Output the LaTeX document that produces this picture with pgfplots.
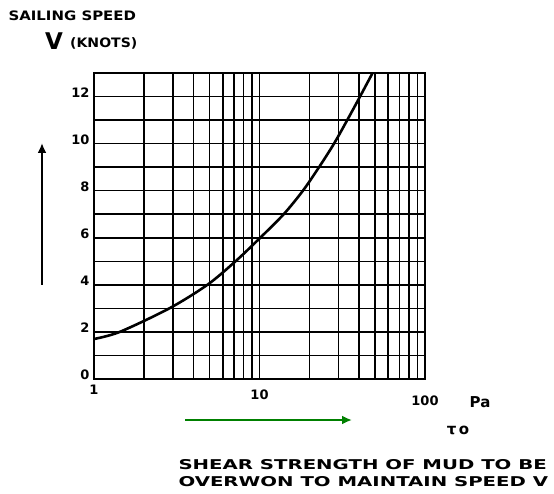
\documentclass[border=0pt]{standalone}
\usepackage{pgfplots}
\pgfplotsset{compat=1.18}
\usepackage{fontspec}
\setmainfont{DejaVu Sans}
\usetikzlibrary{arrows.meta}
\begin{document}
\begin{tikzpicture}[x=1pt,y=1pt]
\path[use as bounding box] (0,0) rectangle (554,493);
\begin{axis}[
  at={(94pt,114pt)}, anchor=south west,
  scale only axis, width=331pt, height=306pt,
  xmode=log, xmin=1, xmax=100, ymin=0, ymax=13,
  xtick={1,10,100},
  xticklabels={{1},{\raisebox{-5pt}[\height]{10}},{\raisebox{-11pt}[\height]{100}}},
  minor xtick={2,3,4,5,6,7,8,9,20,30,40,50,60,70,80,90},
  ytick={0,2,4,6,8,10,12},
  minor ytick={1,3,5,7,9,11},
  grid=both,
  major grid style={black, line width=1.6pt},
  minor grid style={black, line width=1.6pt},
  axis line style={black, line width=1.8pt},
  major tick length=0pt, minor tick length=0pt,
  /pgf/number format/assume math mode=true,
  ticklabel style={font=\fontsize{13}{14}\selectfont\bfseries},
  xticklabel style={yshift=-2pt},
  yticklabel style={xshift=-1pt, yshift=4pt},
  clip=true,
]
\addplot[black, line width=2.6pt, smooth] coordinates {
(1,1.7) (1.43,2) (2.85,3) (4.84,4) (7.16,5) (10.1,6) (14.0,7) (18.3,8)
(22.9,9) (28.2,10) (33.9,11) (40.5,12) (48.2,13)
};
\end{axis}
% titles
\node[anchor=west, font=\fontsize{13}{15}\selectfont\bfseries] at (5,477) {\scalebox{1.15}[1]{SAILING SPEED}};
\node[anchor=base west, font=\fontsize{23}{24}\selectfont\bfseries, inner sep=0pt] at (45,443) {V};
\node[anchor=base west, font=\fontsize{13}{15}\selectfont\bfseries, inner sep=0pt] at (70,445) {\scalebox{1.08}[1]{(KNOTS)}};
% vertical arrow
\draw[line width=2.8pt, -{Latex[length=10pt,width=9pt]}] (42,208) -- (42,350);
% units
\node[font=\fontsize{15}{16}\selectfont\bfseries] at (480,91) {Pa};
\node[font=\fontsize{15}{16}\selectfont\bfseries] at (458,63) {τ\,o};
% green arrow
\draw[line width=2.8pt, green!50!black, -{Latex[length=10pt,width=9pt]}] (185,73) -- (352,73);
% bottom text
\node[anchor=west, font=\fontsize{13.5}{15}\selectfont\bfseries] at (175,28) {\scalebox{1.46}[1]{SHEAR STRENGTH OF MUD TO BE}};
\node[anchor=west, font=\fontsize{13.5}{15}\selectfont\bfseries] at (175,11) {\scalebox{1.46}[1]{OVERWON TO MAINTAIN SPEED V}};
\end{tikzpicture}
\end{document}
